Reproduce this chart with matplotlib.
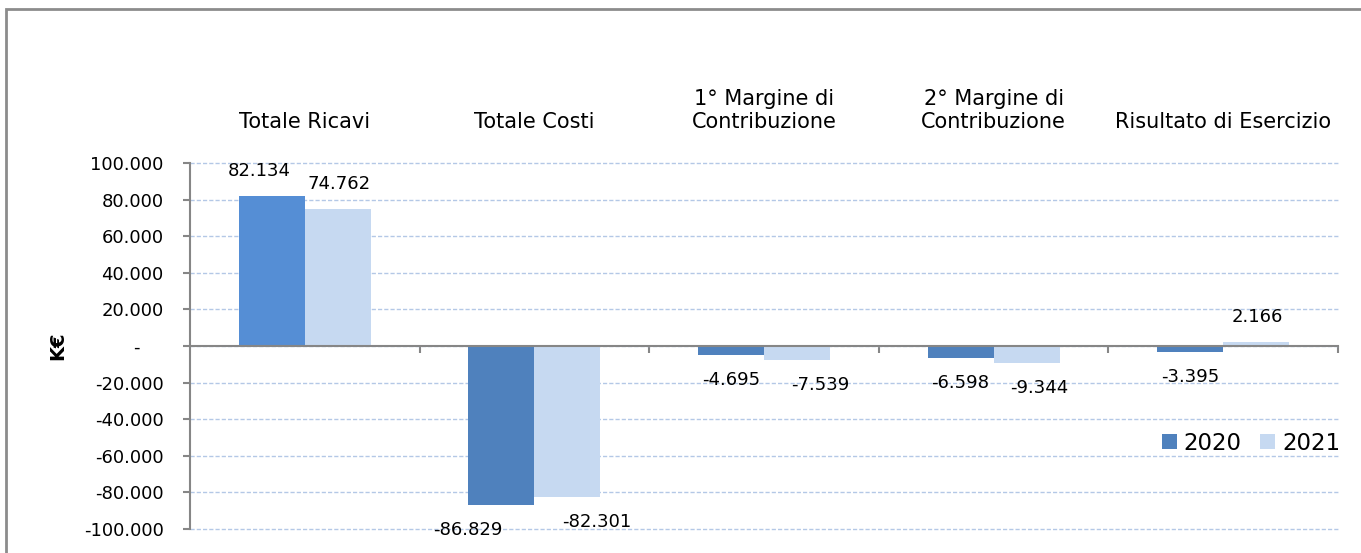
import matplotlib
matplotlib.use("Agg")
import matplotlib.pyplot as plt
import numpy as np
from matplotlib.patches import Patch, Rectangle
from matplotlib.ticker import FuncFormatter

# --- dati (K€) ---
categorie = [
    "Totale Ricavi",
    "Totale Costi",
    "1° Margine di\nContribuzione",
    "2° Margine di\nContribuzione",
    "Risultato di Esercizio",
]
anni = ["2020", "2021"]
valori_2020 = [82134, -86829, -4695, -6598, -3395]
valori_2021 = [74762, -82301, -7539, -9344, 2166]

# spostamento orizzontale delle etichette (pt), come nel grafico Excel
shift_2020 = [-9, -24, 0, 0, 0]
shift_2021 = [1, 21, 17, 9, 1]

C2020 = "#4F81BD"
C2020_RICAVI = "#558ED5"
C2021 = "#C6D9F1"
GRIGIO = "#868686"

W, H = 1361, 553
fig = plt.figure(figsize=(W / 100, H / 100), dpi=100)
ax = fig.add_axes([190 / W, 1 - 529 / H, (1338 - 190) / W, (529 - 163) / H])

x = np.arange(len(categorie))
w = 0.2875
colori_2020 = [C2020_RICAVI] + [C2020] * (len(categorie) - 1)
ax.bar(x - w / 2, valori_2020, w, color=colori_2020, zorder=2)
ax.bar(x + w / 2, valori_2021, w, color=C2021, zorder=2)


def fmt_it(v, _pos=None):
    if v == 0:
        return "-    "
    return f"{v:,.0f}".replace(",", ".")


for xs, vals, shifts in ((x - w / 2, valori_2020, shift_2020), (x + w / 2, valori_2021, shift_2021)):
    for xi, v, dx in zip(xs, vals, shifts):
        dy = 18 if v >= 0 else -18
        ax.annotate(fmt_it(v), (xi, v), xytext=(dx, dy), textcoords="offset points",
                    ha="center", va="center", fontsize=13, color="black")

ax.set_xlim(-0.5, len(categorie) - 0.5)
ax.set_ylim(-100000, 100000)
ax.set_yticks(np.arange(-100000, 100001, 20000))
ax.yaxis.set_major_formatter(FuncFormatter(fmt_it))
ax.yaxis.grid(True, color="#B4C8E6", linestyle=(0, (3, 1.5)), linewidth=1)
for gl in ax.get_ygridlines():
    gl.set_clip_on(False)
ax.set_axisbelow(True)

for s in ("top", "right"):
    ax.spines[s].set_visible(False)
ax.spines["left"].set_color(GRIGIO)
ax.spines["left"].set_linewidth(1.5)
ax.spines["bottom"].set_position(("data", 0))
ax.spines["bottom"].set_color(GRIGIO)
ax.spines["bottom"].set_linewidth(1.5)
ax.spines["bottom"].set_zorder(3)

ax.set_xticks(x)
ax.set_xticklabels(categorie, fontsize=15)
ax.set_xticks(x + 0.5, minor=True)
ax.tick_params(axis="x", which="major", bottom=False, top=False,
               labelbottom=False, labeltop=True, pad=19)
ax.tick_params(axis="x", which="minor", bottom=True, top=False, direction="out",
               length=5, width=1.5, color=GRIGIO)
ax.tick_params(axis="y", direction="out", length=5, width=1.5, color=GRIGIO,
               labelsize=13, pad=14)

fig.text(58 / W, 1 - 346 / H, "K€", rotation=90, ha="center", va="center",
         fontsize=14, fontweight="bold")

ax.legend(handles=[Patch(facecolor=C2020), Patch(facecolor=C2021)], labels=anni,
          loc="center right", bbox_to_anchor=(1340 / W, 1 - 443 / H),
          bbox_transform=fig.transFigure, ncol=2, frameon=False, fontsize=16.5,
          handlelength=0.65, handleheight=0.65, handletextpad=0.3,
          columnspacing=0.8, borderpad=0, borderaxespad=0)

fig.add_artist(Rectangle((6 / W, -0.05), 1.1, (H - 9) / H + 0.05,
                         transform=fig.transFigure, fill=False,
                         edgecolor="#8C8C8C", linewidth=2))

fig.savefig("out.png", dpi=100)
